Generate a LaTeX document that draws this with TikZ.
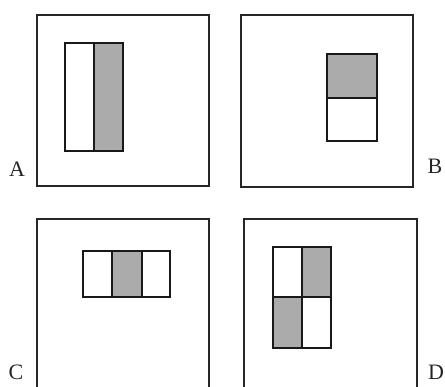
\documentclass[tikz,border=0pt]{standalone}
\usepackage{fontspec}
\setmainfont{Liberation Serif}
\begin{document}
\begin{tikzpicture}[x=1pt,y=-1pt,
  frame/.style={draw=black!85,line width=1.4pt},
  cell/.style={draw=black!90,line width=1.5pt},
  dark/.style={cell,fill=black!33},
  lbl/.style={font=\fontsize{22}{26}\selectfont,text=black!85,inner sep=0pt}]
\useasboundingbox (0,0) rectangle (445,387);
% Panel A
\draw[frame] (37,15) rectangle (209,186);
\draw[cell] (65,43) rectangle (94,151);
\draw[dark] (94,43) rectangle (123,151);
\node[lbl] (la) at (17,169) {A};
% Panel B
\draw[frame] (241,15) rectangle (413,187);
\draw[dark] (327,54) rectangle (377,98);
\draw[cell] (327,98) rectangle (377,141);
\node[lbl] (lb) at (435,166) {B};
% Panel C (bottom edge cut off)
\draw[frame] (37,390) -- (37,219) -- (209,219) -- (209,390);
\draw[cell] (83,251) rectangle (112,297);
\draw[dark] (112,251) rectangle (142,297);
\draw[cell] (142,251) rectangle (170,297);
\node[lbl] (lc) at (16,372) {C};
% Panel D (bottom edge cut off)
\draw[frame] (244,390) -- (244,219) -- (417,219) -- (417,390);
\draw[cell] (273,247) rectangle (302,297);
\draw[dark] (302,247) rectangle (331,297);
\draw[dark] (273,297) rectangle (302,348);
\draw[cell] (302,297) rectangle (331,348);
\node[lbl] (ld) at (436,372) {D};
\end{tikzpicture}
\end{document}
